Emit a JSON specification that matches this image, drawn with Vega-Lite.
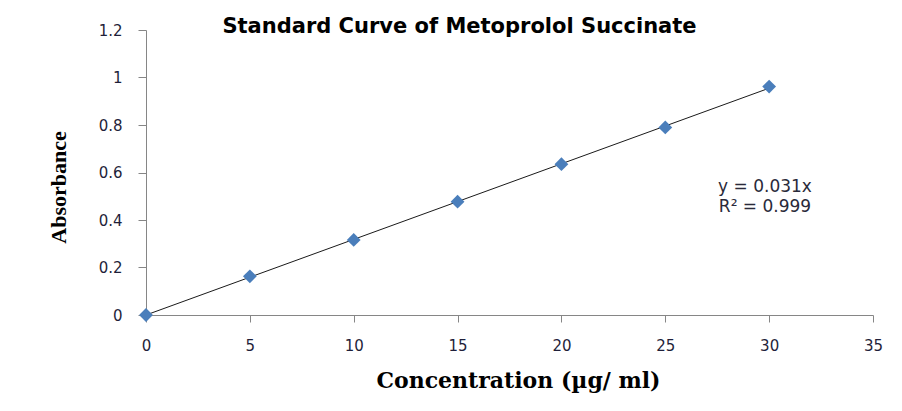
{
  "$schema": "https://vega.github.io/schema/vega-lite/v6.json",
  "width": 727,
  "height": 285,
  "autosize": {"type": "none"},
  "padding": {"left": 146, "top": 30, "right": 29, "bottom": 96},
  "background": "white",
  "config": {"view": {"stroke": null}},
  "title": {
    "text": "Standard Curve of Metoprolol Succinate",
    "font": "DejaVu Sans",
    "fontSize": 21,
    "fontWeight": "bold",
    "color": "#000000",
    "anchor": "middle",
    "frame": "group",
    "dx": -50,
    "offset": -14
  },
  "datasets": {
    "points": [
      {"conc": 0, "abs": 0},
      {"conc": 5, "abs": 0.163},
      {"conc": 10, "abs": 0.316},
      {"conc": 15, "abs": 0.477},
      {"conc": 20, "abs": 0.635},
      {"conc": 25, "abs": 0.79},
      {"conc": 30, "abs": 0.962}
    ],
    "trend": [
      {"conc": 0, "abs": 0},
      {"conc": 30, "abs": 0.955}
    ],
    "notes": [
      {"conc": 29.8, "abs": 0.54, "label": "y = 0.031x"},
      {"conc": 29.8, "abs": 0.456, "label": "R² = 0.999"}
    ]
  },
  "layer": [
    {
      "data": {"name": "trend"},
      "mark": {"type": "line", "color": "#1a1a1a", "strokeWidth": 1},
      "encoding": {
        "x": {
          "field": "conc",
          "type": "quantitative",
          "scale": {"domain": [0, 35], "nice": false},
          "axis": {
            "title": "Concentration (µg/ ml)",
            "titleFont": "DejaVu Serif",
            "titleFontSize": 22,
            "titleFontWeight": "bold",
            "titleColor": "#000000",
            "titlePadding": 17,
            "titleX": 372,
            "values": [0, 5, 10, 15, 20, 25, 30, 35],
            "grid": false,
            "domainColor": "#868686",
            "tickColor": "#868686",
            "tickSize": 7,
            "labelFont": "DejaVu Sans",
            "labelFontSize": 15,
            "labelColor": "#1f1f3a",
            "labelPadding": 16,
            "labelFlush": false
          }
        },
        "y": {
          "field": "abs",
          "type": "quantitative",
          "scale": {"domain": [0, 1.2], "nice": false},
          "axis": {
            "title": "Absorbance",
            "titleFont": "Liberation Serif",
            "titleFontSize": 22,
            "titleFontWeight": "bold",
            "titleColor": "#000000",
            "titlePadding": 28,
            "titleY": 157,
            "values": [0, 0.2, 0.4, 0.6, 0.8, 1, 1.2],
            "format": "~g",
            "grid": false,
            "domainColor": "#868686",
            "tickColor": "#868686",
            "tickSize": 8,
            "labelFont": "DejaVu Sans",
            "labelFontSize": 15,
            "labelColor": "#1f1f3a",
            "labelPadding": 16,
            "labelFlush": false
          }
        }
      }
    },
    {
      "data": {"name": "points"},
      "mark": {"type": "point", "shape": "diamond", "filled": true, "size": 190, "color": "#4A7EBB", "opacity": 1},
      "encoding": {
        "x": {"field": "conc", "type": "quantitative"},
        "y": {"field": "abs", "type": "quantitative"}
      }
    },
    {
      "data": {"name": "notes"},
      "mark": {"type": "text", "font": "DejaVu Sans", "fontSize": 17, "color": "#2a2a3a", "align": "center", "baseline": "middle"},
      "encoding": {
        "x": {"field": "conc", "type": "quantitative"},
        "y": {"field": "abs", "type": "quantitative"},
        "text": {"field": "label"}
      }
    }
  ]
}
